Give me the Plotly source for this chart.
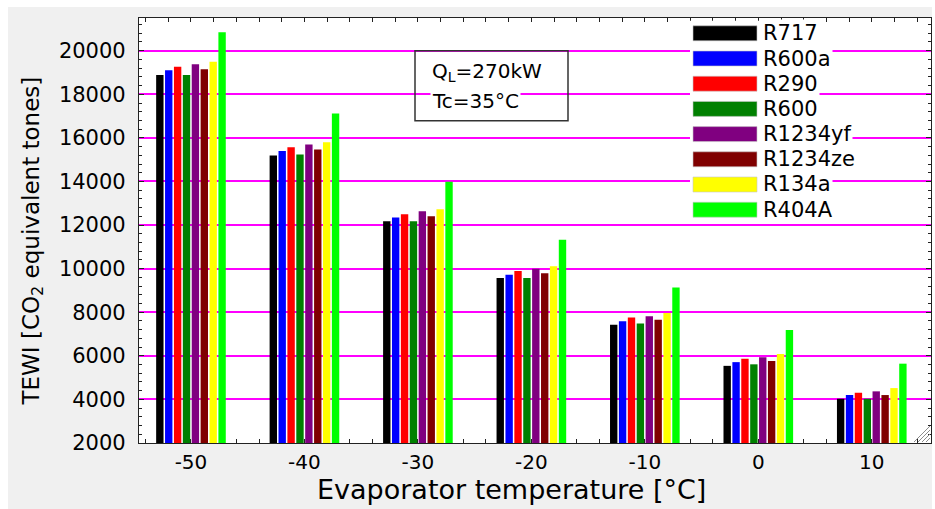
import plotly.graph_objects as go

# Evaporator temperatures [°C]
temperatures = [-50, -40, -30, -20, -10, 0, 10]
temp_labels = ["-50", "-40", "-30", "-20", "-10", "0", "10"]

# TEWI values [CO2 equivalent tones] per refrigerant
R717 = [18880, 15190, 12180, 9570, 7420, 5540, 4030]
R600a = [19100, 15400, 12350, 9720, 7590, 5710, 4200]
R290 = [19260, 15570, 12500, 9890, 7760, 5860, 4310]
R600 = [18880, 15240, 12180, 9570, 7480, 5610, 4030]
R1234yf = [19380, 15700, 12630, 10000, 7820, 5930, 4370]
R1234ze = [19150, 15470, 12400, 9790, 7650, 5760, 4200]
R134a = [19490, 15800, 12730, 10110, 7970, 6080, 4520]
R404A = [20850, 17120, 13990, 11320, 9130, 7180, 5640]

series_names = ["R717", "R600a", "R290", "R600", "R1234yf", "R1234ze", "R134a", "R404A"]
series_values = [R717, R600a, R290, R600, R1234yf, R1234ze, R134a, R404A]
series_colors = ["#000000", "#0000ff", "#ff0000", "#008000",
                 "#800080", "#800000", "#ffff00", "#00ff00"]

y_ticks = [2000, 4000, 6000, 8000, 10000, 12000, 14000, 16000, 18000, 20000]
y_labels = [str(v) for v in y_ticks]

FONT = "DejaVu Sans"
W, H = 935, 509
L, R, T, B = 139, 4, 18, 66
PW, PH = W - L - R, H - T - B


def px(x):
    """Pixel column -> paper x."""
    return (x - L) / PW


def py(y):
    """Pixel row -> paper y."""
    return (H - B - y) / PH


fig = go.Figure()
for name, vals, col in zip(series_names, series_values, series_colors):
    fig.add_trace(go.Bar(
        x=temperatures, y=vals, name=name,
        marker=dict(color=col, line=dict(width=0)),
        showlegend=False,
    ))

shapes = []
# grey window background with a thin white rim, white plotting area on top
shapes.append(dict(type="rect", xref="paper", yref="paper", layer="below",
                   x0=px(8), x1=px(932), y0=py(7), y1=py(509),
                   fillcolor="#f0f0f0", line=dict(width=0)))
shapes.append(dict(type="rect", xref="paper", yref="paper", layer="below",
                   x0=0, x1=1, y0=0, y1=1,
                   fillcolor="#ffffff", line=dict(width=0)))

annotations = []
# legend: wide colour swatches with white-backed labels
row0, row_h = 33.3, 25.2
for i, (name, col) in enumerate(zip(series_names, series_colors)):
    yc = row0 + row_h * i
    shapes.append(dict(type="rect", xref="paper", yref="paper", layer="above",
                       x0=px(690), x1=px(762), y0=py(yc + row_h / 2), y1=py(yc - row_h / 2),
                       fillcolor="#ffffff", line=dict(width=0)))
    shapes.append(dict(type="rect", xref="paper", yref="paper", layer="above",
                       x0=px(693), x1=px(757), y0=py(yc + 7.5), y1=py(yc - 7.5),
                       fillcolor=col, line=dict(width=0.6, color="#c8c8c8")))
    annotations.append(dict(xref="paper", yref="paper", x=px(761), y=py(yc),
                            xanchor="left", yanchor="middle", showarrow=False,
                            text=name, bgcolor="#ffffff", borderpad=1,
                            font=dict(family=FONT, size=21, color="#000000")))

# operating-conditions box
shapes.append(dict(type="rect", xref="paper", yref="paper", layer="above",
                   x0=px(415), x1=px(568), y0=py(120.7), y1=py(50.7),
                   fillcolor="rgba(0,0,0,0)", line=dict(width=1.5, color="#333333")))
annotations.append(dict(xref="paper", yref="paper", x=px(430), y=py(72),
                        xanchor="left", yanchor="middle", showarrow=False,
                        text="Q<sub>L</sub>=270kW", bgcolor="#ffffff", borderpad=1,
                        font=dict(family=FONT, size=20, color="#000000")))
annotations.append(dict(xref="paper", yref="paper", x=px(430), y=py(101),
                        xanchor="left", yanchor="middle", showarrow=False,
                        text="Tc=35°C", bgcolor="#ffffff", borderpad=1,
                        font=dict(family=FONT, size=20, color="#000000")))

# axis titles
annotations.append(dict(xref="paper", yref="paper", x=px(511), y=py(489.5),
                        xanchor="center", yanchor="middle", showarrow=False,
                        text="Evaporator temperature [°C]",
                        font=dict(family=FONT, size=27, color="#000000")))
annotations.append(dict(xref="paper", yref="paper", x=px(32), y=py(241.5),
                        xanchor="center", yanchor="middle", showarrow=False,
                        textangle=-90,
                        text="TEWI [CO<sub>2</sub> equivalent tones]",
                        font=dict(family=FONT, size=23, color="#000000")))

# resize grip in the lower right corner
for k in range(4):
    shapes.append(dict(type="line", xref="paper", yref="paper", layer="above",
                       x0=px(914 + 4 * k), y0=py(442), x1=px(930), y1=py(426 + 4 * k),
                       line=dict(color="#8c8c8c", width=1)))

fig.update_layout(
    width=W, height=H, autosize=False,
    margin=dict(l=L, r=R, t=T, b=B, pad=0),
    paper_bgcolor="#ffffff",
    plot_bgcolor="rgba(0,0,0,0)",
    barmode="group",
    bargap=0.373,
    bargroupgap=0.17,
    font=dict(family=FONT, size=20, color="#000000"),
    shapes=shapes,
    annotations=annotations,
    showlegend=False,
)

fig.update_xaxes(
    range=[-54.58, 15.22],
    tickmode="array", tickvals=temperatures, ticktext=temp_labels,
    ticks="", showgrid=False, zeroline=False,
    showline=True, linecolor="#222222", linewidth=1.2, mirror="ticks",
    ticklabelstandoff=1,
    tickfont=dict(family=FONT, size=20, color="#000000"),
    minor=dict(ticks="inside", dtick=2, tick0=0, ticklen=4,
               tickcolor="#222222", showgrid=False),
    layer="below traces",
)
fig.update_yaxes(
    range=[2000, 21500],
    tickmode="array", tickvals=y_ticks, ticktext=y_labels,
    ticks="inside", ticklen=5, tickcolor="#222222",
    showgrid=True, gridcolor="#ff00ff", gridwidth=1.6,
    zeroline=False,
    showline=True, linecolor="#222222", linewidth=1.2, mirror="ticks",
    ticklabelstandoff=8,
    tickfont=dict(family=FONT, size=21, color="#000000"),
    minor=dict(ticks="inside", dtick=400, tick0=2000, ticklen=3,
               tickcolor="#222222", showgrid=False),
)

fig.write_html("out.html")
